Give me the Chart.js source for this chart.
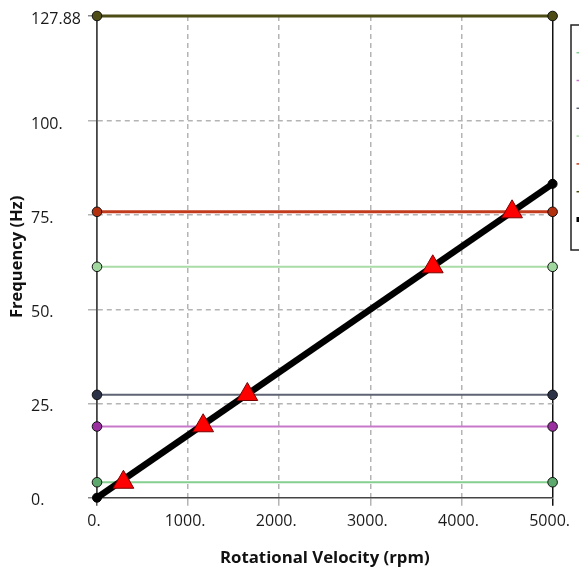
<!DOCTYPE html>
<html>
<head>
<meta charset="utf-8">
<script src="https://cdn.jsdelivr.net/npm/chart.js@4/dist/chart.umd.min.js"></script>
<style>
  html, body { margin: 0; padding: 0; background: #fff; overflow: hidden; }
  #wrap { width: 579px; height: 573px; position: relative; }
</style>
</head>
<body>
<div id="wrap"><canvas id="campbell" width="579" height="573"></canvas></div>
<script>
// Campbell diagram data
const speedRange = [0, 5000];                          // rpm
const modeFreqs = [4.1, 18.9, 27.3, 61.3, 75.9, 127.88]; // Hz, one per mode
const modeLine = ['#85cf90', '#c878cb', '#5d6373', '#a9dca6', '#c23b1c', '#4c4c14'];
const modeMarker = ['#5da86c', '#9a30a0', '#2b3247', '#9fd79f', '#b3300f', '#4c4c14'];
const modeWidth = [2, 2, 2, 2, 3, 3];
const ratioLine = [0, 83.33];                            // 1x excitation, Hz at speedRange
const critSpeeds = [290, 1165, 1650, 3685, 4555];        // rpm
const critFreqs = [4.1, 19.1, 27.4, 61.3, 75.9];         // Hz
const xTicks = [0, 1000, 2000, 3000, 4000, 5000];
const yTicks = [0, 25, 50, 75, 100, 127.88];
const yTickLabels = ['0.', '25.', '50.', '75.', '100.', '127.88'];

const FONT = "'Open Sans', sans-serif";
const gridGray = '#b4b4b4';

const datasets = [];

// critical speed markers (top-most)
datasets.push({
    label: 'Critical Speeds',
    data: critSpeeds.map((s, i) => ({ x: s, y: critFreqs[i] })),
    showLine: false,
    pointStyle: 'triangle',
    pointRadius: 12,
    backgroundColor: '#ff0000',
    borderColor: '#7a0000',
    borderWidth: 1,
    clip: false
});

// 1x line
datasets.push({
    label: '1x',
    data: speedRange.map((s, i) => ({ x: s, y: ratioLine[i] })),
    showLine: true,
    borderColor: '#000',
    borderWidth: 6.5,
    pointRadius: 4.5,
    pointBorderWidth: 1,
    pointBackgroundColor: '#000',
    pointBorderColor: '#000',
    clip: false
});

// modes, highest first so lower ones sit on top
for (let m = modeFreqs.length - 1; m >= 0; m--) {
    datasets.push({
        label: 'Mode ' + (m + 1),
        data: speedRange.map(s => ({ x: s, y: modeFreqs[m] })),
        showLine: true,
        borderColor: modeLine[m],
        borderWidth: modeWidth[m],
        pointRadius: 4.8,
        pointBorderWidth: 1,
        pointBackgroundColor: modeMarker[m],
        pointBorderColor: '#111',
        clip: false
    });
}

// little clipped legend box at the right edge + y title
const extras = {
    id: 'extras',
    afterDraw(chart) {
        const ctx = chart.ctx;
        ctx.save();
        // y-axis title
        const a = chart.chartArea;
        ctx.translate(17, (a.top + a.bottom) / 2);
        ctx.rotate(-Math.PI / 2);
        ctx.font = "bold 16.5px " + FONT;
        ctx.fillStyle = '#111';
        ctx.textAlign = 'center';
        ctx.textBaseline = 'middle';
        ctx.fillText('Frequency (Hz)', 0, 0);
        ctx.restore();

        ctx.save();
        ctx.strokeStyle = '#222';
        ctx.lineWidth = 1.5;
        ctx.strokeRect(571, 25, 40, 225);
        const cols = modeLine.concat(['#000']);
        cols.forEach((c, i) => {
            ctx.strokeStyle = c;
            ctx.lineWidth = i === cols.length - 1 ? 5 : 1.5;
            ctx.beginPath();
            ctx.moveTo(576.5, 52.7 + i * 27.8);
            ctx.lineTo(600, 52.7 + i * 27.8);
            ctx.stroke();
        });
        ctx.restore();
    }
};

const isEdge = (ctx, v) => ctx.tick && Math.abs(ctx.tick.value - v) < 1e-6;

new Chart(document.getElementById('campbell'), {
    type: 'scatter',
    data: { datasets },
    options: {
        responsive: false,
        animation: false,
        events: [],
        layout: { padding: { left: 31, top: 16, right: 21, bottom: 0 } },
        plugins: { legend: { display: false }, tooltip: { enabled: false } },
        scales: {
            x: {
                type: 'linear',
                min: 0,
                max: 5000,
                afterBuildTicks: s => { s.ticks = xTicks.map(v => ({ value: v })); },
                afterFit: s => { s.height = 75.3; },
                ticks: {
                    callback: v => v + '.',
                    font: { family: FONT, size: 16 },
                    color: '#1a1a1a',
                    padding: 6,
                    maxRotation: 0,
                    labelOffset: -3
                },
                grid: {
                    color: ctx => isEdge(ctx, 0) ? 'transparent' : (isEdge(ctx, 5000) ? '#111' : gridGray),
                    tickColor: ctx => isEdge(ctx, 0) ? '#555' : (isEdge(ctx, 5000) ? '#111' : gridGray),
                    lineWidth: 1.5,
                    tickLength: 8
                },
                border: {
                    color: '#444',
                    width: 1.5,
                    dash: ctx => (isEdge(ctx, 0) || isEdge(ctx, 5000)) ? [] : [5, 4]
                },
                title: {
                    display: true,
                    text: 'Rotational Velocity (rpm)',
                    font: { family: FONT, size: 16.8, weight: 'bold' },
                    color: '#111',
                    padding: { top: 0, bottom: 5 }
                }
            },
            y: {
                type: 'linear',
                min: 0,
                max: 127.88,
                afterBuildTicks: s => { s.ticks = yTicks.map(v => ({ value: v })); },
                afterFit: s => { s.width = 66; },
                ticks: {
                    callback: (v, i) => yTickLabels[i],
                    font: { family: FONT, size: 16 },
                    color: '#1a1a1a',
                    crossAlign: 'far',
                    labelOffset: 3
                },
                grid: {
                    color: ctx => (isEdge(ctx, 0) || isEdge(ctx, 127.88)) ? 'transparent' : gridGray,
                    tickColor: ctx => isEdge(ctx, 0) || isEdge(ctx, 127.88) ? '#888' : gridGray,
                    lineWidth: 1.5,
                    tickLength: 9
                },
                border: {
                    color: '#444',
                    width: 1.8,
                    dash: ctx => (isEdge(ctx, 0) || isEdge(ctx, 127.88)) ? [] : [5, 4]
                }
            }
        }
    },
    plugins: [extras]
});
</script>
</body>
</html>
